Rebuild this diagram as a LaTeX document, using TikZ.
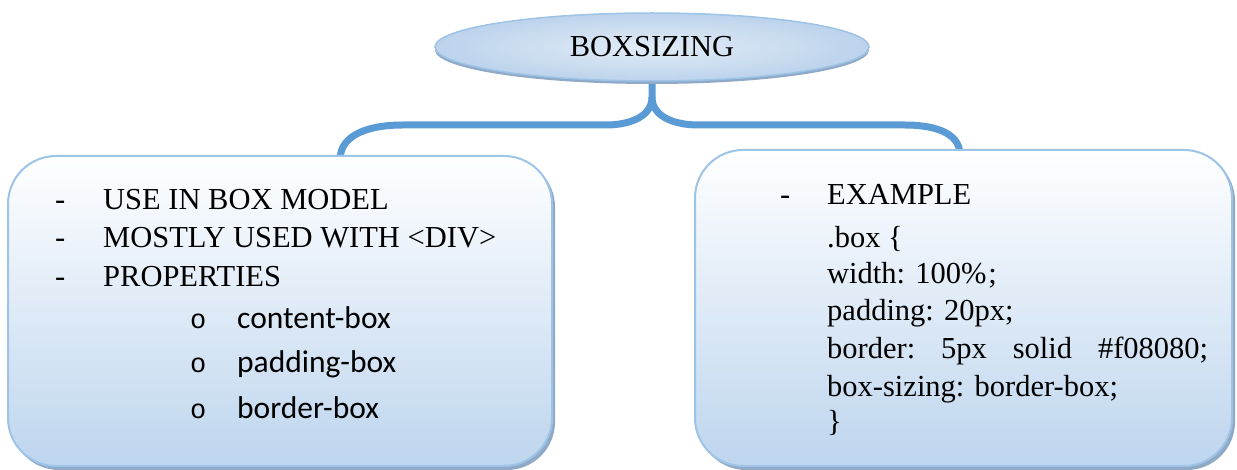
\documentclass[tikz,border=0pt]{standalone}
\usepackage{fontspec}
\setmainfont{Liberation Serif}
\newfontfamily\calfont{Carlito}
\newfontfamily\monofont{Liberation Mono}
\usetikzlibrary{shapes.geometric,shadings}
\definecolor{linkblue}{HTML}{5B9BD5}
\definecolor{edgeblue}{HTML}{9DC3E6}
\definecolor{fillbot}{HTML}{BDD5EE}
\definecolor{shadowc}{HTML}{8FA9C6}
\definecolor{ellin}{HTML}{E2ECF7}
\definecolor{ellout}{HTML}{BCD3EC}
\tikzset{
  link/.style={draw=linkblue,line width=7pt},
  panel/.style={draw=edgeblue,line width=2pt,rounded corners=48pt,top color=white,bottom color=fillbot},
  panelshadow/.style={fill=shadowc,rounded corners=48pt},
  txt/.style={anchor=base west,inner sep=0pt,font=\fontsize{30.5}{36}\selectfont},
  subtxt/.style={anchor=base west,inner sep=0pt,font=\calfont\fontsize{31.5}{36}\selectfont},
  bul/.style={anchor=base west,inner sep=0pt,font=\monofont\light\fontsize{27}{30}\selectfont},
}
\providecommand{\light}{}
\begin{document}
\begin{tikzpicture}[x=1pt,y=-1pt]
\useasboundingbox (0,0) rectangle (1237,470);
% connectors
\coordinate (stem) at (652,75);
\coordinate (fork) at (652,97);
\coordinate (lh) at (606,125);
\coordinate (lh2) at (402,125);
\coordinate (rh) at (698,125);
\coordinate (rh2) at (905,125);
\coordinate (lend) at (340,160);
\coordinate (rend) at (960,155);
\draw[link] (stem) -- (fork) to[out=-90,in=0] (lh) -- (lh2) to[out=180,in=90] (lend);
\draw[link] (fork) to[out=-90,in=180] (rh) -- (rh2) to[out=0,in=90] (rend);
% title ellipse
\fill[shadowc] (652,50) ellipse [x radius=217,y radius=34];
\node[ellipse,draw=edgeblue,line width=1.5pt,inner color=ellin,outer color=ellout,
  minimum width=434pt,minimum height=68pt,inner sep=0pt,font=\fontsize{30.5}{36}\selectfont] (title) at (652,47) {\raisebox{-5pt}{BOXSIZING}};
% panels
\fill[panelshadow] (11,159) rectangle (555,470);
\path[panel] (8,156) rectangle (552,466);
\coordinate (leftpanel) at (8,156);
\fill[panelshadow] (698,153) rectangle (1235,470);
\path[panel] (695,150) rectangle (1232,466);
\coordinate (rightpanel) at (695,150);
% left text
\node[txt] (d1) at (55,210) {-};
\node[txt] (t1) at (103,210) {USE IN BOX MODEL};
\node[txt] (d2) at (55,248) {-};
\node[txt] (t2) at (103,248) {MOSTLY USED WITH <DIV>};
\node[txt] (d3) at (55,287) {-};
\node[txt] (t3) at (103,287) {PROPERTIES};
\node[bul] (b1) at (190,328) {o};
\node[subtxt] (s1) at (237,328) {content-box};
\node[bul] (b2) at (190,372) {o};
\node[subtxt] (s2) at (237,372) {padding-box};
\node[bul] (b3) at (190,418) {o};
\node[subtxt] (s3) at (237,418) {border-box};
% right text
\node[txt] (d4) at (780,205) {-};
\node[txt] (e0) at (827,205) {EXAMPLE};
\node[txt] (e1) at (827,248) {.box \{};
\node[txt] (e2) at (827,284) {width: 100\%\kern2pt;};
\node[txt] (e3) at (827,321) {padding: 20px;};
\node[txt] (e4) at (827,359) {\makebox[381pt][s]{border:\hfill 5px\hfill solid\hfill \#f08080;}};
\node[txt] (e5) at (827,396) {box-sizing: border-box;};
\node[txt] (e6) at (827,431) {\}};
\end{tikzpicture}
\end{document}
